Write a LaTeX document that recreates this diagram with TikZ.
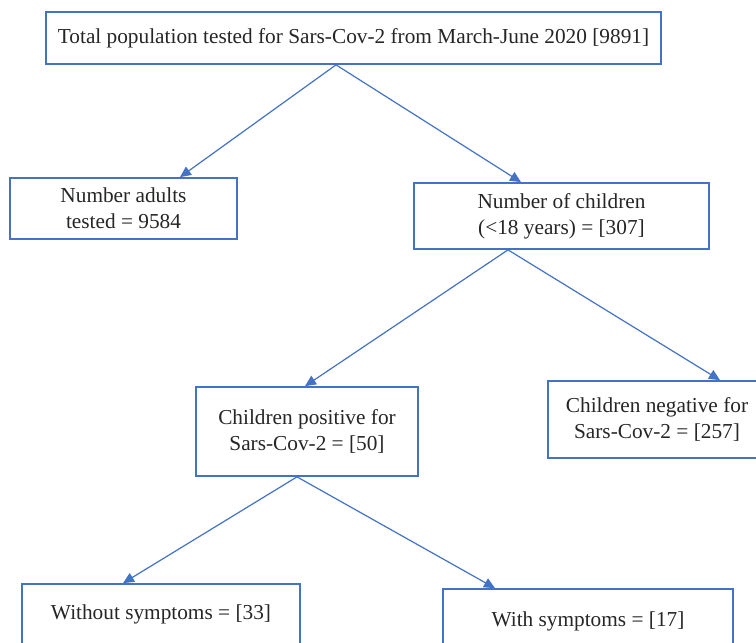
\documentclass[tikz,border=0pt]{standalone}
\usepackage{fontspec}
\setmainfont{Liberation Serif}
\usetikzlibrary{arrows.meta}
\definecolor{boxblue}{HTML}{4472C4}
\begin{document}
\begin{tikzpicture}[x=1pt,y=-1pt,
  box/.style={draw=boxblue,line width=1.7pt,rectangle,align=center,inner sep=0pt,
    font=\fontsize{21.3}{26}\selectfont,text=black!85},
  arr/.style={draw=boxblue,line width=1.2pt,-{Triangle[length=11pt,width=10pt]}}]
\useasboundingbox (0,0) rectangle (756,643);
\clip (0,0) rectangle (756,643);
\fill[white] (0,0) rectangle (756,643);
\node[box,minimum width=615pt,minimum height=52pt] (top) at (353.5,38) {Total population tested for Sars-Cov-2 from March-June 2020 [9891]};
\node[box,minimum width=227pt,minimum height=61pt] (adults) at (123.5,208.5) {Number adults\\tested = 9584};
\node[box,minimum width=295pt,minimum height=66pt] (children) at (561.5,216) {Number of children\\(<18 years) = [307]};
\node[box,minimum width=222pt,minimum height=89pt] (pos) at (307,431.5) {Children positive for\\Sars-Cov-2 = [50]};
\node[box,minimum width=218pt,minimum height=77pt] (neg) at (657,419.5) {Children negative for\\Sars-Cov-2 = [257]};
\node[box,minimum width=278pt,minimum height=60pt] (without) at (161,614) {Without symptoms = [33]};
\node[box,minimum width=290pt,minimum height=64pt] (with) at (588,621) {With symptoms = [17]};
\draw[arr] ([xshift=-17.5pt]top.south) -- ([xshift=56.5pt]adults.north);
\draw[arr] ([xshift=-17.5pt]top.south) -- ([xshift=-40.5pt]children.north);
\draw[arr] ([xshift=-53.5pt]children.south) -- ([xshift=-2pt]pos.north);
\draw[arr] ([xshift=-53.5pt]children.south) -- ([xshift=63pt]neg.north);
\draw[arr] ([xshift=-10pt]pos.south) -- ([xshift=-38pt]without.north);
\draw[arr] ([xshift=-10pt]pos.south) -- ([xshift=-93pt]with.north);
\end{tikzpicture}
\end{document}
